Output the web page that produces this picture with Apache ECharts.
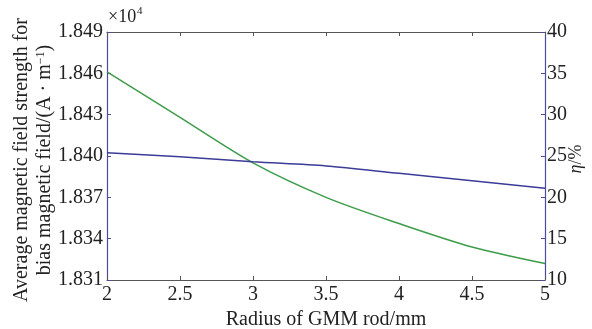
<!DOCTYPE html>
<html>
<head>
<meta charset="utf-8">
<script src="https://cdn.jsdelivr.net/npm/echarts@6/dist/echarts.min.js"></script>
<style>
  html, body { margin: 0; padding: 0; background: #fff; }
  #chart { width: 592px; height: 329px; }
</style>
</head>
<body>
<div id="chart"></div>
<script>
// radius of GMM rod (mm)
const radius = [2, 2.5, 3, 3.5, 4, 4.5, 5];
// average field strength, in units of 1e4 A/m
const fieldStrength = [1.8461, 1.8428, 1.8395, 1.8370, 1.8351, 1.8334, 1.8322];
// efficiency eta (%)
const eta = [25.4, 24.9, 24.3, 23.8, 22.9, 22.0, 21.1];

const font = "'Liberation Serif', 'Times New Roman', serif";
const axisBlue = "#4a4a9e";
const frameGray = "#555555";

const chart = echarts.init(document.getElementById("chart"), null, { renderer: "canvas" });

chart.setOption({
  backgroundColor: "#fff",
  animation: false,
  grid: { left: 107, right: 47, top: 32, bottom: 49, outerBoundsMode: "none", containLabel: false },
  xAxis: [
    {
      type: "value",
      min: 2, max: 5, interval: 0.5,
      position: "bottom",
      name: "Radius of GMM rod/mm",
      nameLocation: "middle",
      nameGap: 29,
      nameTextStyle: { fontFamily: font, fontSize: 20, color: "#222" },
      axisLine: { lineStyle: { color: frameGray, width: 1.2 } },
      axisTick: { inside: true, length: 4, lineStyle: { color: frameGray } },
      axisLabel: { fontFamily: font, fontSize: 20, color: "#222", margin: 5 },
      splitLine: { show: false }
    },
    {
      type: "value",
      min: 2, max: 5, interval: 0.5,
      position: "top",
      axisLine: { show: true, lineStyle: { color: frameGray, width: 1.2 } },
      axisTick: { inside: true, length: 4, lineStyle: { color: frameGray } },
      axisLabel: { show: false },
      splitLine: { show: false }
    }
  ],
  yAxis: [
    {
      type: "value",
      min: 1.831, max: 1.849, interval: 0.003,
      position: "left",
      axisLine: { show: true, lineStyle: { color: axisBlue, width: 1.2 } },
      axisTick: { show: true, inside: true, length: 4, lineStyle: { color: axisBlue } },
      axisLabel: {
        fontFamily: font, fontSize: 20, color: "#222", margin: 4,
        formatter: v => v.toFixed(3)
      },
      splitLine: { show: false }
    },
    {
      type: "value",
      min: 10, max: 40, interval: 5,
      position: "right",
      axisLine: { show: true, lineStyle: { color: axisBlue, width: 1.2 } },
      axisTick: { show: true, inside: true, length: 4, lineStyle: { color: axisBlue } },
      axisLabel: { fontFamily: font, fontSize: 20, color: "#222", margin: 2 },
      splitLine: { show: false }
    }
  ],
  graphic: [
    {
      type: "text", left: 108, top: 8,
      style: { text: "×10", fontFamily: font, fontSize: 18, fill: "#222" }
    },
    {
      type: "text", left: 137, top: 6,
      style: { text: "4", fontFamily: font, fontSize: 11, fill: "#222" }
    },
    {
      type: "text", x: 22, y: 160, rotation: Math.PI / 2,
      style: {
        text: "Average magnetic field strength for",
        fontFamily: font, fontSize: 20, fill: "#222",
        align: "center", verticalAlign: "middle"
      }
    },
    {
      type: "text", x: 45, y: 160, rotation: Math.PI / 2,
      style: {
        text: "bias magnetic field/(A · m{s|−1})",
        fontFamily: font, fontSize: 20, fill: "#222",
        align: "center", verticalAlign: "middle",
        rich: { s: { fontFamily: font, fontSize: 12, verticalAlign: "top", padding: [0, 0, 9, 0] } }
      }
    },
    {
      type: "text", x: 576, y: 159, rotation: Math.PI / 2,
      style: {
        text: "{i|η}/%",
        fontFamily: font, fontSize: 18, fill: "#222",
        align: "center", verticalAlign: "middle",
        rich: { i: { fontFamily: font, fontSize: 18, fontStyle: "italic" } }
      }
    }
  ],
  series: [
    {
      type: "line",
      xAxisIndex: 0, yAxisIndex: 0,
      data: radius.map((r, i) => [r, fieldStrength[i]]),
      smooth: 0.3,
      showSymbol: false,
      lineStyle: { color: "#3c9c4a", width: 1.5 }
    },
    {
      type: "line",
      xAxisIndex: 0, yAxisIndex: 1,
      data: radius.map((r, i) => [r, eta[i]]),
      smooth: 0.3,
      showSymbol: false,
      lineStyle: { color: "#3b3b98", width: 1.5 }
    }
  ]
});
</script>
</body>
</html>
